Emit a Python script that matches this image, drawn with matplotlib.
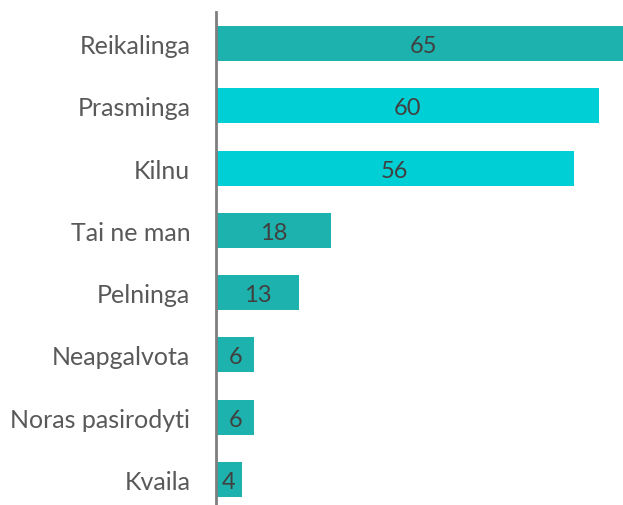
import matplotlib
matplotlib.use('Agg')
import matplotlib.pyplot as plt

# dữ liệu
labels = ['Reikalinga', 'Prasminga', 'Kilnu', 'Tai ne man', 'Pelninga',
          'Neapgalvota', 'Noras pasirodyti', 'Kvaila']
values = [65, 60, 56, 18, 13, 6, 6, 4]
colors = ['#1DB2AD', '#00CFD5', '#00CFD5', '#1DB2AD', '#1DB2AD',
          '#1DB2AD', '#1DB2AD', '#1DB2AD']

plt.rcParams['font.family'] = ['Lato', 'DejaVu Sans']

fig = plt.figure(figsize=(6.23, 5.06), dpi=100)
ax = fig.add_axes([216 / 623, 0, 1 - 216 / 623, 1 - 13 / 506])

pos = list(range(len(labels)))
ax.barh(pos, values, height=0.56, color=colors)
for p, v in zip(pos, values):
    ax.text(v / 2, p, str(v), ha='center', va='center_baseline', fontsize=17, color='#404040')

ax.set_xlim(0, 63.7)
ax.set_ylim(7.41, -0.506)
ax.set_yticks(pos)
ax.set_yticklabels(labels, fontsize=18, color='#595959')
ax.tick_params(axis='y', length=0, pad=18.5)
ax.set_xticks([])
for s in ['top', 'right', 'bottom']:
    ax.spines[s].set_visible(False)
ax.spines['left'].set_color('#7F7F7F')
ax.spines['left'].set_linewidth(2)

plt.savefig('out.png', dpi=100)
